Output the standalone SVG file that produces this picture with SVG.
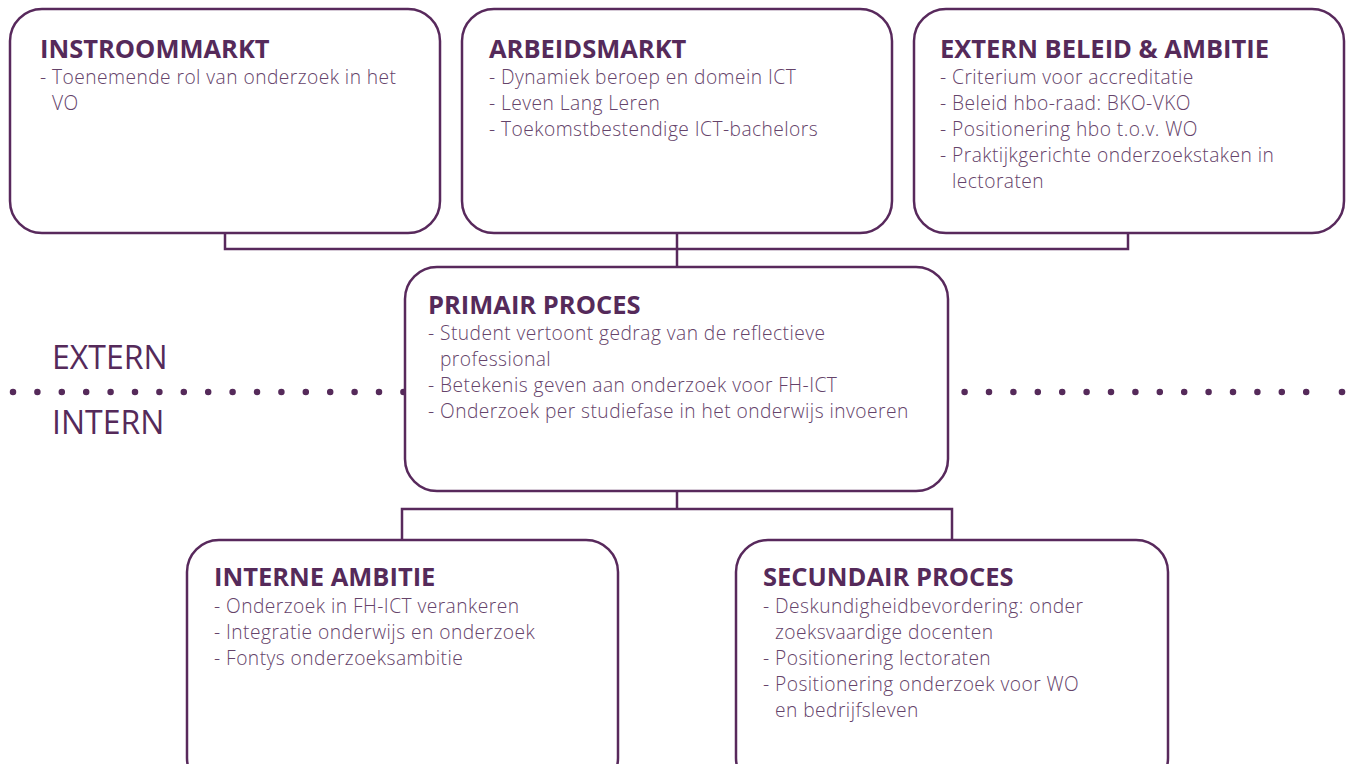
<svg xmlns="http://www.w3.org/2000/svg" width="1349" height="764" viewBox="0 0 1349 764">
<style>
.box{fill:#fff;stroke:#58295c;stroke-width:2.5}
.con{fill:none;stroke:#58295c;stroke-width:2.5}
.t{font-family:"Open Sans","Noto Sans",sans-serif;font-weight:700;font-size:25.5px;fill:#552a5a}
.b{font-family:"Open Sans","Noto Sans",sans-serif;font-weight:300;font-size:19.2px;letter-spacing:0.45px;fill:#65436a}
.side{font-family:"Open Sans","Noto Sans",sans-serif;font-size:32px;fill:#552a5a}
</style>
<rect width="1349" height="764" fill="#fff"/>
<g id="divider">
<line x1="13" y1="392" x2="1307" y2="392" stroke="#552a5a" stroke-width="6.5" stroke-linecap="round" stroke-dasharray="0 24.4"/>
<circle cx="1342" cy="392" r="3.3" fill="#552a5a"/>
<text class="side" x="52" y="369">EXTERN</text>
<text class="side" x="52" y="434">INTERN</text>
</g>
<g id="connectors">
<path class="con" d="M225 233V249H1128V233M677 233V267"/>
<path class="con" d="M677 491V509M402 540V509H952V540"/>
</g>
<g id="instroommarkt">
<rect class="box" x="10" y="9" width="430" height="224" rx="32"/>
<text class="t" x="40" y="58">INSTROOMMARKT</text>
<text class="b" x="40" y="84">- Toenemende rol van onderzoek in het</text>
<text class="b" x="52" y="110">VO</text>
</g>
<g id="arbeidsmarkt">
<rect class="box" x="462" y="9" width="430" height="224" rx="32"/>
<text class="t" x="489" y="58">ARBEIDSMARKT</text>
<text class="b" x="489" y="84">- Dynamiek beroep en domein ICT</text>
<text class="b" x="489" y="110">- Leven Lang Leren</text>
<text class="b" x="489" y="136">- Toekomstbestendige ICT-bachelors</text>
</g>
<g id="extern-beleid">
<rect class="box" x="914" y="9" width="430" height="224" rx="32"/>
<text class="t" x="940" y="58">EXTERN BELEID &amp; AMBITIE</text>
<text class="b" x="940" y="84">- Criterium voor accreditatie</text>
<text class="b" x="940" y="110">- Beleid hbo-raad: BKO-VKO</text>
<text class="b" x="940" y="136">- Positionering hbo t.o.v. WO</text>
<text class="b" x="940" y="162">- Praktijkgerichte onderzoekstaken in</text>
<text class="b" x="952" y="188">lectoraten</text>
</g>
<g id="primair-proces">
<rect class="box" x="405" y="267" width="543" height="224" rx="32"/>
<text class="t" x="428" y="314">PRIMAIR PROCES</text>
<text class="b" x="428" y="340">- Student vertoont gedrag van de reflectieve</text>
<text class="b" x="440" y="366">professional</text>
<text class="b" x="428" y="392">- Betekenis geven aan onderzoek voor FH-ICT</text>
<text class="b" x="428" y="418">- Onderzoek per studiefase in het onderwijs invoeren</text>
</g>
<g id="interne-ambitie">
<rect class="box" x="187" y="540" width="431" height="250" rx="32"/>
<text class="t" x="214" y="586">INTERNE AMBITIE</text>
<text class="b" x="214" y="613">- Onderzoek in FH-ICT verankeren</text>
<text class="b" x="214" y="639">- Integratie onderwijs en onderzoek</text>
<text class="b" x="214" y="665">- Fontys onderzoeksambitie</text>
</g>
<g id="secundair-proces">
<rect class="box" x="736" y="540" width="432" height="250" rx="32"/>
<text class="t" x="763" y="586">SECUNDAIR PROCES</text>
<text class="b" x="763" y="613">- Deskundigheidbevordering: onder</text>
<text class="b" x="775" y="639">zoeksvaardige docenten</text>
<text class="b" x="763" y="665">- Positionering lectoraten</text>
<text class="b" x="763" y="691">- Positionering onderzoek voor WO</text>
<text class="b" x="775" y="717">en bedrijfsleven</text>
</g>
</svg>
